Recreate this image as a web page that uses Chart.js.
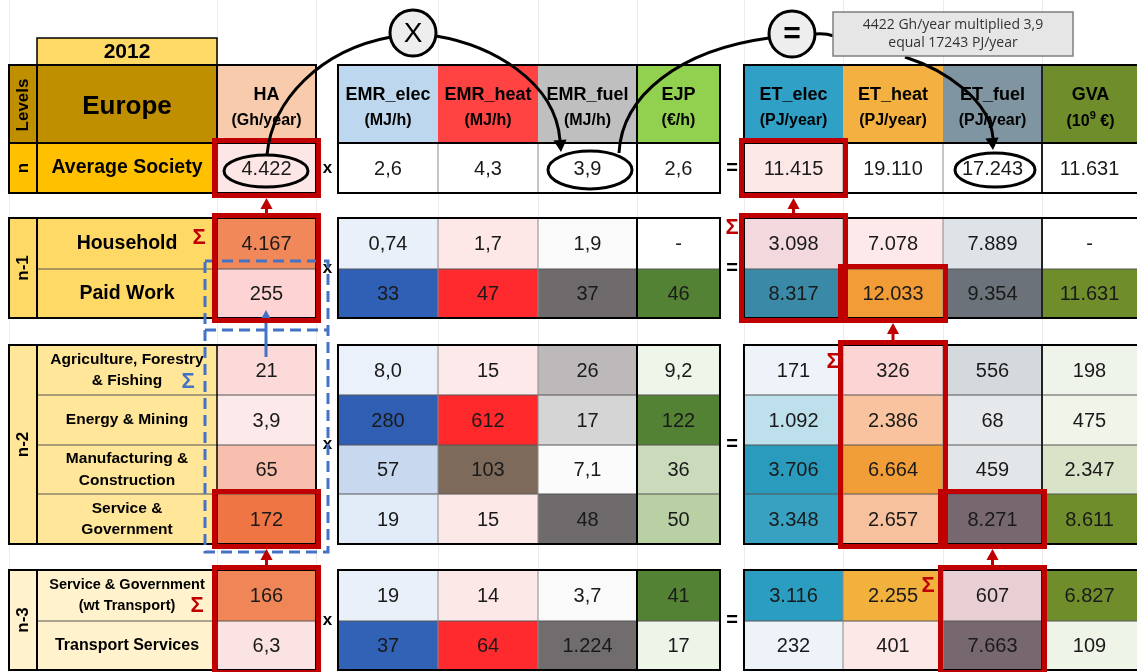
<!DOCTYPE html>
<html>
<head>
<meta charset="utf-8">
<script src="https://cdn.jsdelivr.net/npm/chart.js@4.4.0/dist/chart.umd.min.js"></script>
<style>
  html, body { margin: 0; padding: 0; background: #fff; }
  #wrap { width: 1137px; height: 672px; position: relative; }
</style>
</head>
<body>
<div id="wrap"><canvas id="chart"></canvas></div>
<script>
// ---------------------------------------------------------------- data ---- //
const year = '2012';
const region = 'Europe';
const levels = ['n', 'n-1', 'n-2', 'n-3'];
const sectors = [
    'Average Society',
    'Household', 'Paid Work',
    'Agriculture, Forestry\n& Fishing', 'Energy & Mining', 'Manufacturing &\nConstruction', 'Service &\nGovernment',
    'Service & Government\n(wt Transport)', 'Transport Services'
];
const columnNames = ['HA', 'EMR_elec', 'EMR_heat', 'EMR_fuel', 'EJP', 'ET_elec', 'ET_heat', 'ET_fuel', 'GVA'];
const columnUnits = ['(Gh/year)', '(MJ/h)', '(MJ/h)', '(MJ/h)', '(€/h)', '(PJ/year)', '(PJ/year)', '(PJ/year)', '(10^9 €)'];

// values as printed (European notation)
const haValues  = ['4.422', '4.167', '255', '21', '3,9', '65', '172', '166', '6,3'];
const emrElec   = ['2,6', '0,74', '33', '8,0', '280', '57', '19', '19', '37'];
const emrHeat   = ['4,3', '1,7', '47', '15', '612', '103', '15', '14', '64'];
const emrFuel   = ['3,9', '1,9', '37', '26', '17', '7,1', '48', '3,7', '1.224'];
const ejp       = ['2,6', '-', '46', '9,2', '122', '36', '50', '41', '17'];
const etElec    = ['11.415', '3.098', '8.317', '171', '1.092', '3.706', '3.348', '3.116', '232'];
const etHeat    = ['19.110', '7.078', '12.033', '326', '2.386', '6.664', '2.657', '2.255', '401'];
const etFuel    = ['17.243', '7.889', '9.354', '556', '68', '459', '8.271', '607', '7.663'];
const gva       = ['11.631', '-', '11.631', '198', '475', '2.347', '8.611', '6.827', '109'];
const noteText  = ['4422 Gh/year multiplied 3,9', 'equal 17243 PJ/year'];

const allValues = [haValues, emrElec, emrHeat, emrFuel, ejp, etElec, etHeat, etFuel, gva];

// ---------------------------------------------------------------- layout --- //
const colEdges = [[217, 316], [338, 438], [438, 538], [538, 637], [637, 720],
                  [744, 843], [843, 943], [943, 1042], [1042, 1139]];
const rowEdges = [[143, 193], [218, 269], [269, 318], [345, 395], [395, 445],
                  [445, 494], [494, 544], [570, 621], [621, 670]];
const groupRows = [[0, 0], [1, 2], [3, 6], [7, 8]];
const headerY = [65, 143];
const levelX = [9, 37];
const labelX = [37, 217];

// ---------------------------------------------------------------- styles --- //
const FONT = '"Liberation Sans", Arial, sans-serif';
const RED = '#c00000';
const BLUE = '#4472c4';
const headerColors = ['#f8cbad', '#bdd7ee', '#ff4343', '#bfbfbf', '#92d050', '#30a0c6', '#f4b141', '#7f95a2', '#6f8d2b'];
const groupColors = ['#ffc000', '#ffd966', '#ffe699', '#fff2cc'];
const sectorFontSize = [19.5, 19.5, 19.5, 15.5, 15.5, 15.5, 15.5, 14.5, 16];
const cellColors = [
    ['#fde6e6', '#f0885a', '#fdd3d3', '#fcdada', '#fce9e9', '#f8bfae', '#f07544', '#f08657', '#fce3e3'],
    ['#ffffff', '#e9f0f9', '#3060b6', '#ebf1fa', '#2f5eb2', '#c8d9ef', '#e2ecf8', '#e9f0f9', '#3262b5'],
    ['#ffffff', '#fde7e7', '#ff2a2d', '#fde9e9', '#ff282b', '#7d6a5b', '#fde8e8', '#fde8e8', '#ff2a2d'],
    ['#ffffff', '#fafafa', '#6f6b6c', '#bdb9ba', '#d5d5d5', '#fbfbfb', '#6f6b6c', '#fafafa', '#716d6e'],
    ['#ffffff', '#ffffff', '#548235', '#eef5e9', '#548235', '#cadabb', '#b8d0a3', '#548235', '#edf5e8'],
    ['#fde8e8', '#f3d9de', '#3a89a6', '#eef3fa', '#bde0ec', '#2a9bbd', '#38a0c1', '#2a9dc1', '#edf3f9'],
    ['#ffffff', '#fde9e9', '#f29c38', '#fcd4d4', '#f9c39f', '#f19e38', '#f8c19d', '#f2b13d', '#fde8e8'],
    ['#ffffff', '#dde3e7', '#6c7279', '#d3d9dc', '#e5e9eb', '#e2e6e9', '#776870', '#e8cfd4', '#776870'],
    ['#ffffff', '#ffffff', '#6f8d2b', '#eef4ea', '#f0f4e9', '#d9e3c7', '#6f8d2b', '#6f8d2b', '#eef5e8']
];

// red frames: column, first row, last row
const frames = [[0, 0, 0], [0, 1, 2], [0, 6, 6], [0, 7, 8],
                [5, 0, 0], [5, 1, 2], [6, 2, 2], [6, 3, 6], [7, 6, 6], [7, 7, 8]];
// red arrows: column, from frame (lower) to frame (upper)
const redArrows = [[0, 1, 0], [0, 3, 2], [5, 5, 4], [6, 7, 6], [7, 9, 8]];

// ---------------------------------------------------------------- helpers -- //
function drawText(ctx, str, x, y, font, color, align) {
    ctx.save();
    ctx.font = font;
    ctx.fillStyle = color || '#000';
    ctx.textAlign = align || 'center';
    ctx.textBaseline = 'middle';
    ctx.fillText(str, x, y);
    ctx.restore();
}

function drawLines(ctx, str, x, y, font, lh, color) {
    const lines = str.split('\n');
    const top = y - (lines.length - 1) * lh / 2;
    lines.forEach((l, i) => drawText(ctx, l, x, top + i * lh, font, color));
}

function vText(ctx, str, x, y, font) {
    ctx.save();
    ctx.translate(x, y);
    ctx.rotate(-Math.PI / 2);
    drawText(ctx, str, 0, 0, font, '#000');
    ctx.restore();
}

function line(ctx, x0, y0, x1, y1, color, lw) {
    ctx.save();
    ctx.strokeStyle = color;
    ctx.lineWidth = lw;
    ctx.beginPath();
    ctx.moveTo(x0, y0);
    ctx.lineTo(x1, y1);
    ctx.stroke();
    ctx.restore();
}

function arrowHead(ctx, tipX, tipY, angle, size, color) {
    ctx.save();
    ctx.fillStyle = color;
    ctx.translate(tipX, tipY);
    ctx.rotate(angle);
    ctx.beginPath();
    ctx.moveTo(0, 0);
    ctx.lineTo(-size, -size * 0.55);
    ctx.lineTo(-size, size * 0.55);
    ctx.closePath();
    ctx.fill();
    ctx.restore();
}

// ---------------------------------------------------------------- plugin --- //
const tablePlugin = {
    id: 'tablePlugin',
    beforeDatasetsDraw(chart) {
        const ctx = chart.ctx;
        const xs = chart.scales.x, ys = chart.scales.y;
        const X = v => xs.getPixelForValue(v), Y = v => ys.getPixelForValue(v);

        // faint sheet gridlines
        [9, 217, 316, 438, 538, 637, 744, 843, 943, 1042].forEach(x =>
            line(ctx, X(x) + 0.5, Y(0), X(x) + 0.5, Y(672), '#ebebeb', 1));

        // year box
        ctx.fillStyle = '#ffd966';
        ctx.fillRect(X(labelX[0]), Y(38), X(labelX[1]) - X(labelX[0]), Y(headerY[0]) - Y(38));
        ctx.strokeStyle = '#000'; ctx.lineWidth = 1.5;
        ctx.strokeRect(X(labelX[0]), Y(38), X(labelX[1]) - X(labelX[0]), Y(headerY[0]) - Y(38));
        drawText(ctx, year, X(127), Y(52), 'bold 21px ' + FONT);

        // header row
        const hy0 = Y(headerY[0]), hy1 = Y(headerY[1]);
        ctx.fillStyle = '#bf8f00';
        ctx.fillRect(X(levelX[0]), hy0, X(labelX[1]) - X(levelX[0]), hy1 - hy0);
        vText(ctx, 'Levels', X(23), Y(105), 'bold 17px ' + FONT);
        drawText(ctx, region, X(127), Y(107), 'bold 26px ' + FONT);
        columnNames.forEach((name, c) => {
            const x0 = X(colEdges[c][0]), x1 = X(colEdges[c][1]);
            ctx.fillStyle = headerColors[c];
            ctx.fillRect(x0, hy0, x1 - x0, hy1 - hy0);
            const cx = (x0 + x1) / 2;
            drawText(ctx, name, cx, Y(95), 'bold 18px ' + FONT);
            const unit = columnUnits[c];
            if (unit.includes('^')) {
                const [a, rest] = unit.split('^');
                const sup = rest.charAt(0), b = rest.slice(1);
                ctx.font = 'bold 16px ' + FONT;
                const wa = ctx.measureText(a).width, wb = ctx.measureText(b).width;
                ctx.font = 'bold 11px ' + FONT;
                const ws = ctx.measureText(sup).width;
                let sx = cx - (wa + ws + wb) / 2;
                drawText(ctx, a, sx, Y(122), 'bold 16px ' + FONT, '#000', 'left');
                drawText(ctx, sup, sx + wa, Y(116), 'bold 11px ' + FONT, '#000', 'left');
                drawText(ctx, b, sx + wa + ws, Y(122), 'bold 16px ' + FONT, '#000', 'left');
            } else {
                drawText(ctx, unit, cx, Y(121), 'bold 16px ' + FONT);
            }
        });

        // level and sector labels
        groupRows.forEach(([r0, r1], g) => {
            const y0 = Y(rowEdges[r0][0]), y1 = Y(rowEdges[r1][1]);
            ctx.fillStyle = groupColors[g];
            ctx.fillRect(X(levelX[0]), y0, X(labelX[1]) - X(levelX[0]), y1 - y0);
            vText(ctx, levels[g], X(23), (y0 + y1) / 2, 'bold 17px ' + FONT);
            for (let r = r0; r <= r1; r++) {
                const cy = (Y(rowEdges[r][0]) + Y(rowEdges[r][1])) / 2;
                const fs = sectorFontSize[r];
                drawLines(ctx, sectors[r], X(127), cy, 'bold ' + fs + 'px ' + FONT, fs + 6);
            }
        });
    },

    afterDatasetsDraw(chart) {
        const ctx = chart.ctx;
        const xs = chart.scales.x, ys = chart.scales.y;
        const X = v => xs.getPixelForValue(v), Y = v => ys.getPixelForValue(v);

        // value cells, one dataset per column
        chart.data.datasets.forEach((ds, c) => {
            const meta = chart.getDatasetMeta(c);
            const w = X(colEdges[c][1]) - X(colEdges[c][0]);
            meta.data.forEach((pt, r) => {
                const h = Y(rowEdges[r][1]) - Y(rowEdges[r][0]);
                ctx.fillStyle = ds.cellColors[r];
                ctx.fillRect(pt.x - w / 2, pt.y - h / 2, w, h);
                drawText(ctx, ds.data[r].v, pt.x, pt.y + 1, '20px ' + FONT, '#1a1a1a');
            });
        });

        // block lines
        const blocks = [
            { x0: levelX[0], x1: colEdges[0][1], hx: labelX[0], v: [[37, '#000', 2], [217, '#000', 1.5]] },
            { x0: colEdges[1][0], x1: colEdges[4][1], hx: colEdges[1][0], v: [[438, '#8a8a8a', 1], [538, '#8a8a8a', 1], [637, '#000', 2]] },
            { x0: colEdges[5][0], x1: colEdges[8][1], hx: colEdges[5][0], v: [[843, '#8a8a8a', 1], [943, '#8a8a8a', 1], [1042, '#222', 2]] }
        ];
        blocks.forEach((b, bi) => {
            // header
            const hv = bi === 0 ? [[37, '#000', 2], [217, '#000', 2]] : [b.v[2]];
            hv.forEach(([x, col, lw]) => line(ctx, X(x), Y(headerY[0]), X(x), Y(headerY[1]), col, lw));
            ctx.strokeStyle = '#000'; ctx.lineWidth = 2;
            ctx.strokeRect(X(b.x0), Y(headerY[0]), X(b.x1) - X(b.x0), Y(headerY[1]) - Y(headerY[0]));
            // groups
            groupRows.forEach(([r0, r1]) => {
                const y0 = Y(rowEdges[r0][0]), y1 = Y(rowEdges[r1][1]);
                for (let r = r0; r < r1; r++) {
                    const yy = Y(rowEdges[r][1]);
                    line(ctx, X(b.hx), yy, X(b.x1), yy, '#555', 1);
                }
                b.v.forEach(([x, col, lw]) => line(ctx, X(x), y0, X(x), y1, col, lw));
                ctx.strokeStyle = '#000'; ctx.lineWidth = 2;
                ctx.strokeRect(X(b.x0), y0, X(b.x1) - X(b.x0), y1 - y0);
            });
        });

        // operators between blocks
        groupRows.forEach(([r0, r1]) => {
            const cy = (Y(rowEdges[r0][0]) + Y(rowEdges[r1][1])) / 2;
            drawText(ctx, 'x', X(327.5), cy, 'bold 17px ' + FONT);
            drawText(ctx, '=', X(732), cy, 'bold 20px ' + FONT);
        });

        // blue dashed selection
        ctx.save();
        ctx.strokeStyle = BLUE; ctx.lineWidth = 3; ctx.setLineDash([11, 6]);
        ctx.strokeRect(X(205), Y(261), X(328) - X(205), Y(552) - Y(261));
        ctx.beginPath(); ctx.moveTo(X(205), Y(330)); ctx.lineTo(X(328), Y(330)); ctx.stroke();
        ctx.restore();
        line(ctx, X(266), Y(357), X(266), Y(320), BLUE, 3);
        arrowHead(ctx, X(266), Y(310), -Math.PI / 2, 12, BLUE);

        // red frames
        const frameBox = f => {
            const [c, r0, r1] = f;
            return { x0: X(colEdges[c][0]) - 2.5, x1: X(Math.min(colEdges[c][1], 1136)) + 2.5,
                     y0: Y(rowEdges[r0][0]) - 2.5, y1: Y(rowEdges[r1][1]) + 2.5 };
        };
        frames.forEach(f => {
            const b = frameBox(f);
            ctx.strokeStyle = RED; ctx.lineWidth = 5;
            ctx.strokeRect(b.x0, b.y0, b.x1 - b.x0, b.y1 - b.y0);
        });
        redArrows.forEach(([c, from, to]) => {
            const cx = (X(colEdges[c][0]) + X(colEdges[c][1])) / 2;
            const yFrom = frameBox(frames[from]).y0 - 2.5;
            const yTo = frameBox(frames[to]).y1 + 2.5;
            line(ctx, cx, yFrom, cx, yTo + 8, RED, 3);
            arrowHead(ctx, cx, yTo, -Math.PI / 2, 11, RED);
        });

        // sums
        const sig = 'bold 22px ' + FONT;
        drawText(ctx, 'Σ', X(199), Y(238), sig, RED);
        drawText(ctx, 'Σ', X(188), Y(382), sig, BLUE);
        drawText(ctx, 'Σ', X(197), Y(606), sig, RED);
        drawText(ctx, 'Σ', X(732), Y(228), sig, RED);
        drawText(ctx, 'Σ', X(833), Y(362), sig, RED);
        drawText(ctx, 'Σ', X(928), Y(586), sig, RED);

        // ellipses round the worked example
        ctx.save();
        ctx.strokeStyle = '#000'; ctx.lineWidth = 3;
        [[266, 171, 42, 16], [590, 170, 42, 19], [995, 170, 40, 17]].forEach(([ex, ey, rx, ry]) => {
            ctx.beginPath();
            ctx.ellipse(X(ex), Y(ey), rx, ry, 0, 0, Math.PI * 2);
            ctx.stroke();
        });

        // curved arrows
        ctx.beginPath();
        ctx.moveTo(X(267), Y(155));
        ctx.bezierCurveTo(X(272), Y(100), X(320), Y(50), X(391), Y(37));
        ctx.stroke();
        ctx.beginPath();
        ctx.moveTo(X(436), Y(36));
        ctx.bezierCurveTo(X(490), Y(45), X(555), Y(80), X(560), Y(140));
        ctx.stroke();
        arrowHead(ctx, X(561), Y(152), Math.atan2(140 - 80, 560 - 555), 12, '#000');
        ctx.beginPath();
        ctx.moveTo(X(619), Y(153));
        ctx.bezierCurveTo(X(622), Y(95), X(680), Y(50), X(769), Y(38));
        ctx.stroke();
        ctx.beginPath();
        ctx.moveTo(X(815), Y(34));
        ctx.quadraticCurveTo(X(825), Y(33), X(834), Y(36));
        ctx.stroke();
        ctx.beginPath();
        ctx.moveTo(X(905), Y(57));
        ctx.bezierCurveTo(X(945), Y(70), X(990), Y(100), X(993), Y(138));
        ctx.stroke();
        arrowHead(ctx, X(993), Y(150), Math.atan2(138 - 100, 993 - 990), 12, '#000');

        // operator circles
        [[413, 33, 'X', '28px '], [792, 34, '=', 'bold 30px ']].forEach(([cx, cy, s, f]) => {
            ctx.beginPath();
            ctx.arc(X(cx), Y(cy), 23, 0, Math.PI * 2);
            ctx.fillStyle = '#eeeeee';
            ctx.fill();
            ctx.stroke();
            drawText(ctx, s, X(cx), Y(cy) + 1, f + FONT, '#000');
        });
        ctx.restore();

        // note box
        ctx.fillStyle = '#e7e6e6';
        ctx.fillRect(X(833), Y(12), X(1073) - X(833), Y(56) - Y(12));
        ctx.strokeStyle = '#7f7f7f'; ctx.lineWidth = 1.5;
        ctx.strokeRect(X(833), Y(12), X(1073) - X(833), Y(56) - Y(12));
        drawText(ctx, noteText[0], X(953), Y(25), '14px "Open Sans", ' + FONT, '#333');
        drawText(ctx, noteText[1], X(953), Y(43), '14px "Open Sans", ' + FONT, '#333');
    }
};

// ---------------------------------------------------------------- chart ---- //
const datasets = columnNames.map((name, c) => ({
    label: name,
    data: allValues[c].map((v, r) => ({
        x: (colEdges[c][0] + Math.min(colEdges[c][1], 1137)) / 2,
        y: (rowEdges[r][0] + rowEdges[r][1]) / 2,
        v: v
    })),
    cellColors: cellColors[c],
    pointRadius: 0,
    pointHoverRadius: 0
}));

new Chart(document.getElementById('chart').getContext('2d'), {
    type: 'scatter',
    data: { datasets: datasets },
    options: {
        responsive: true,
        maintainAspectRatio: false,
        animation: false,
        events: [],
        layout: { padding: 0 },
        plugins: { legend: { display: false }, tooltip: { enabled: false } },
        scales: {
            x: { type: 'linear', min: 0, max: 1137, display: false },
            y: { type: 'linear', min: 0, max: 672, reverse: true, display: false }
        }
    },
    plugins: [tablePlugin]
});
</script>
</body>
</html>
